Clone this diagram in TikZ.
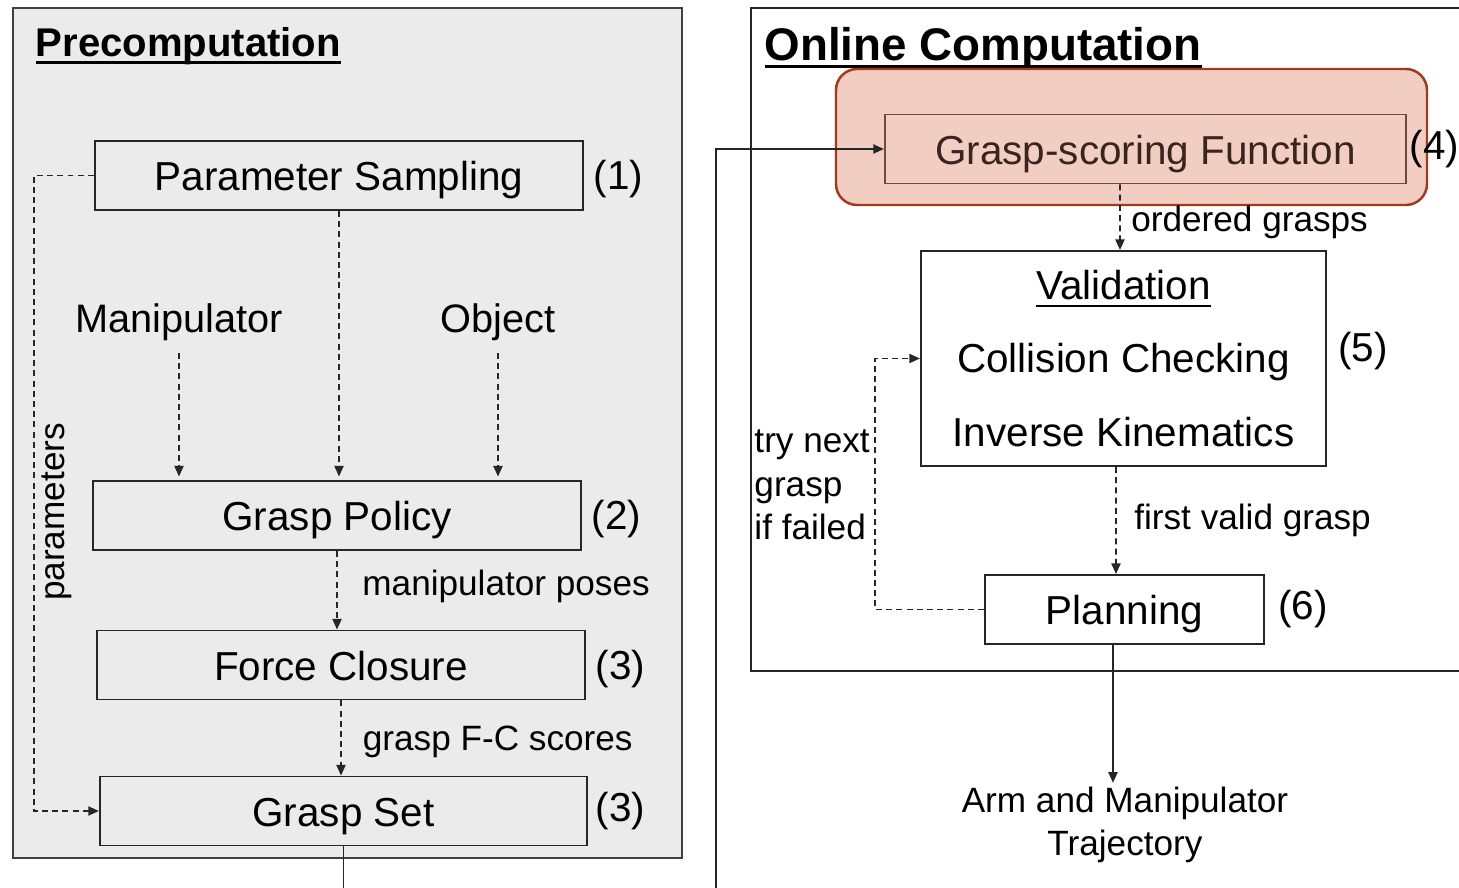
\documentclass[tikz,border=0pt]{standalone}
\usepackage{fontspec}
\setmainfont{Liberation Sans}
\usepackage{tikz}
\usetikzlibrary{arrows.meta,positioning}
\definecolor{panelgray}{HTML}{EBEBEB}
\definecolor{hlfill}{HTML}{F2CEC2}
\definecolor{hledge}{HTML}{A4381C}
\definecolor{fnedge}{HTML}{6B4A3F}
\definecolor{fntext}{HTML}{3A2420}
\newcommand{\ulttl}[2]{\setbox0\hbox{#2}\rlap{\copy0}\raisebox{-2pt}{\rule{\wd0}{#1}}}

\begin{document}
\begin{tikzpicture}[x=0.01cm, y=-0.01cm, >={Triangle[length=3pt,width=2.6pt]},
    frame/.style={draw=black!85, line width=0.55pt, minimum height=0.69cm, inner sep=0pt, font=\fontsize{11.5}{14}\selectfont},
    box/.style={frame, text height=11.2pt, text depth=2.4pt},
    txt/.style={font=\fontsize{11.3}{14}\selectfont},
    lbl/.style={font=\fontsize{10}{12.3}\selectfont, inner sep=1pt},
    num/.style={font=\fontsize{11.5}{14}\selectfont, inner sep=1pt},
    dsh/.style={draw=black!85, line width=0.45pt, dash pattern=on 1.7pt off 1.2pt},
    conn/.style={draw=black!85, line width=0.5pt}]
    \useasboundingbox (0,0) rectangle (1459,888);
    \clip (0,0) rectangle (1459,888);

    % panels
    \node (pre) [draw=black!75, line width=0.7pt, fill=panelgray, minimum width=6.69cm, minimum height=8.5cm, inner sep=0pt] at (347.5,433) {};
    \node (onl) [draw=black!85, line width=0.55pt, minimum width=7.3cm, minimum height=6.63cm, inner sep=0pt] at (1116,339.5) {};
    \node (pretitle) [anchor=base west, inner sep=0pt, font=\bfseries\fontsize{11.4}{14}\selectfont] at (35,57) {\ulttl{0.8pt}{Precomputation}};
    \node (onltitle) [anchor=base west, inner sep=0pt, font=\bfseries\fontsize{13}{16}\selectfont] at (764,61) {\ulttl{0.9pt}{Online Computation}};

    % precomputation
    \node (ps) [box, minimum width=4.88cm] at (339,175.5) {Parameter Sampling};
    \node (gp) [box, minimum width=4.88cm] at (337,515.5) {Grasp Policy};
    \node (fc) [box, minimum width=4.88cm] at (341,665) {Force Closure};
    \node (gs) [box, minimum width=4.87cm] at (343.5,811) {Grasp Set};
    \node (n1) [num, right=1.5pt of ps, yshift=-1.1pt] {(1)};
    \node (n2) [num, right=1.5pt of gp, yshift=-0.9pt] {(2)};
    \node (n3a) [num, right=1.5pt of fc, yshift=-1.2pt] {(3)};
    \node (n3b) [num, right=1pt of gs] {(3)};
    \node (man) [txt] at (179,322) {Manipulator};
    \node (obj) [txt] at (498,322) {Object};
    \node (prm) [lbl, rotate=90] at (57,512) {parameters};

    \draw[dsh,->,shorten >=1pt] (man.south) -- (man.south |- gp.north);
    \draw[dsh,->,shorten >=1pt] (obj.south) -- (obj.south |- gp.north);
    \draw[dsh,->,shorten >=1pt] (ps.south) -- (ps.south |- gp.north);
    \draw[dsh,->] (gp.south) -- (gp.south |- fc.north) node[lbl, midway, right=6pt, yshift=1pt] {manipulator poses};
    \draw[dsh,->] (fc.south) -- (fc.south |- gs.north) node[lbl, midway, right=5pt, yshift=-1pt] {grasp F-C scores};
    \draw[dsh,->] (ps.west) -- ++(-60,0) |- (gs.west);

    % online computation
    \draw[hledge, fill=hlfill, line width=0.7pt, rounded corners=6pt] (836,69) rectangle (1427,205);
    \node (gsf) [box, draw=fnedge, text=fntext, minimum width=5.21cm] at (1145.5,149) {Grasp-scoring Function};
    \node (n4) [num, inner sep=0pt, right=0.6pt of gsf] {(4)};
    \node (val) [frame, minimum width=4.05cm, minimum height=2.15cm, align=center, font=\fontsize{11.5}{20.8}\selectfont] at (1123.5,358.5) {\ulttl{0.45pt}{Validation}\\Collision Checking\\Inverse Kinematics};
    \node (n5) [num, right=2pt of val, yshift=2pt] {(5)};
    \node (plan) [box, minimum width=2.79cm] at (1124.5,609.5) {Planning};
    \node (n6) [num, right=2.5pt of plan] {(6)};
    \node (traj) [lbl, align=center] at (1125,825) {Arm and Manipulator\\Trajectory};
    \node (retry) [lbl, align=left, anchor=east] at (874,485) {try next\\grasp\\if failed};

    \draw[dsh,->] ([xshift=-0.255cm]gsf.south) -- ([xshift=-0.035cm]val.north) node[lbl, midway, right=2pt, yshift=-1.5pt] {ordered grasps};
    \draw[dsh,->] ([xshift=-0.075cm]val.south) -- ([xshift=-0.085cm]plan.north) node[lbl, midway, right=4pt] {first valid grasp};
    \draw[conn,->] ([xshift=-0.115cm]plan.south) -- ([xshift=-0.12cm]traj.north);
    \draw[dsh,->] (plan.west) -- ++(-109,0) |- (val.west);

    \coordinate (turn) at (716,930);
    \draw[conn,->] (gs.south) |- (turn) |- (gsf.west);
  \end{tikzpicture}
\end{document}
